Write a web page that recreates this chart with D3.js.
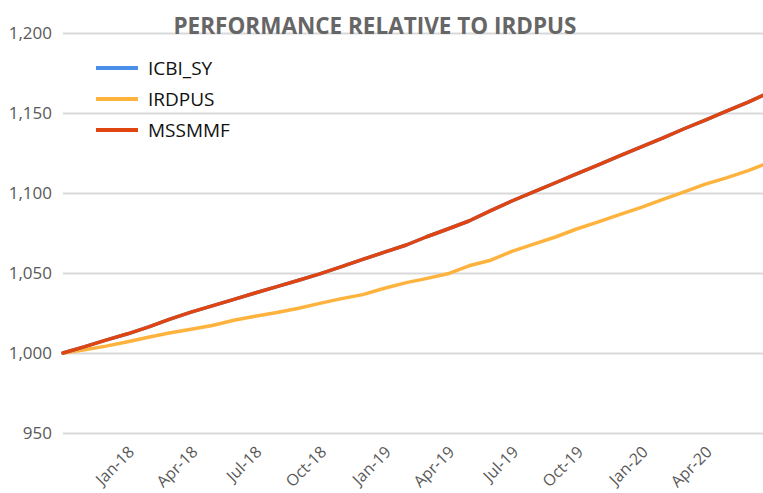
<!DOCTYPE html>
<html>
<head>
<meta charset="utf-8">
<script src="https://cdn.jsdelivr.net/npm/d3@7"></script>
<style>
  body { margin: 0; background: #fff; }
  svg { display: block; font-family: "Open Sans", "Noto Sans", sans-serif; }
</style>
</head>
<body>
<div id="chart"></div>
<script>
// --------------- Data ---------------
const dates = [
  "2017-10-01", "2017-11-01", "2017-12-01", "2018-01-01", "2018-02-01", "2018-03-01",
  "2018-04-01", "2018-05-01", "2018-06-01", "2018-07-01", "2018-08-01", "2018-09-01",
  "2018-10-01", "2018-11-01", "2018-12-01", "2019-01-01", "2019-02-01", "2019-03-01",
  "2019-04-01", "2019-05-01", "2019-06-01", "2019-07-01", "2019-08-01", "2019-09-01",
  "2019-10-01", "2019-11-01", "2019-12-01", "2020-01-01", "2020-02-01", "2020-03-01",
  "2020-04-01", "2020-05-01", "2020-06-01", "2020-06-22"
];
const mssmmf = [
  1000, 1004, 1008, 1012, 1016.5, 1021, 1025.5, 1029.5, 1033.5, 1037.5, 1041.5, 1045.5,
  1049.5, 1054, 1058.5, 1063, 1067.5, 1072.5, 1077.5, 1082.5, 1089, 1095, 1100.7, 1106.4,
  1112, 1117.6, 1123.2, 1128.8, 1134.4, 1140, 1145.6, 1151.2, 1156.8, 1161
];
// ICBI_SY sits exactly under MSSMMF in the picture
const icbiSy = mssmmf.slice();
const irdpus = [
  1000, 1002, 1004.3, 1007, 1010, 1012.5, 1014.8, 1017.2, 1020.5, 1023, 1025.3, 1028,
  1031, 1034, 1036.5, 1040.5, 1044, 1046.5, 1049.5, 1054.5, 1058, 1063.5, 1068, 1072.5,
  1077.5, 1082, 1086.5, 1091, 1096, 1100.5, 1105.5, 1109.5, 1114, 1117.5
];
const seriesNames = ["ICBI_SY", "IRDPUS", "MSSMMF"];
const seriesColors = ["#4a8fe8", "#ffb33f", "#e0440f"];
const yTicks = [950, 1000, 1050, 1100, 1150, 1200];
const xTicks = [
  "2018-01-01", "2018-04-01", "2018-07-01", "2018-10-01", "2019-01-01", "2019-04-01",
  "2019-07-01", "2019-10-01", "2020-01-01", "2020-04-01"
];
const title = "PERFORMANCE RELATIVE TO IRDPUS";

// --------------- Constants ---------------
const WIDTH = 763;
const HEIGHT = 493;
const MARGINS = { top: 33, right: 0, bottom: 60, left: 63 };

const parse = d3.timeParse("%Y-%m-%d");

const svg = d3
  .select("#chart")
  .append("svg")
  .attr("width", WIDTH)
  .attr("height", HEIGHT);

const x = d3
  .scaleTime()
  .domain(d3.extent(dates, parse))
  .range([MARGINS.left, WIDTH - MARGINS.right]);

const y = d3
  .scaleLinear()
  .domain([950, 1200])
  .range([HEIGHT - MARGINS.bottom, MARGINS.top]);

// --------------- Grid + y axis ---------------
const yAxis = svg
  .append("g")
  .attr("transform", `translate(${MARGINS.left},0)`)
  .call(
    d3.axisLeft(y)
      .tickValues(yTicks)
      .tickFormat(d3.format(","))
      .tickSize(-(WIDTH - MARGINS.left - MARGINS.right))
      .tickPadding(11)
  )
  .attr("font-family", null)
  .attr("font-size", null);
yAxis.select(".domain").remove();
yAxis.selectAll(".tick line").attr("stroke", "#d9d9d9").attr("stroke-width", 2);
yAxis
  .selectAll(".tick text")
  .attr("fill", "#595959")
  .style("font-size", "17px");

// --------------- x axis ---------------
const xAxis = svg
  .append("g")
  .attr("transform", `translate(0,${HEIGHT - MARGINS.bottom})`)
  .call(
    d3.axisBottom(x)
      .tickValues(xTicks.map(parse))
      .tickFormat(d3.timeFormat("%b-%y"))
      .tickSize(0)
  )
  .attr("font-family", null)
  .attr("font-size", null);
xAxis.select(".domain").remove();
xAxis
  .selectAll(".tick text")
  .attr("fill", "#595959")
  .style("font-size", "16px")
  .attr("text-anchor", "end")
  .attr("dy", "0.35em")
  .attr("transform", "translate(1,14) rotate(-45)");

// --------------- Title ---------------
svg
  .append("text")
  .attr("x", 375)
  .attr("y", 34)
  .attr("text-anchor", "middle")
  .attr("fill", "#666")
  .style("font-size", "22.5px")
  .style("font-weight", "bold")
  .text(title);

// --------------- Lines ---------------
const allSeries = [icbiSy, irdpus, mssmmf];
const line = d3
  .line()
  .x((d, i) => x(parse(dates[i])))
  .y((d) => y(d));

// draw order: IRDPUS, ICBI_SY, then MSSMMF on top
[1, 0, 2].forEach((k) => {
  svg
    .append("path")
    .datum(allSeries[k])
    .attr("fill", "none")
    .attr("stroke", seriesColors[k])
    .attr("stroke-width", 3.5)
    .attr("stroke-linejoin", "round")
    .attr("stroke-linecap", "round")
    .attr("d", line);
});

// --------------- Legend ---------------
const legend = svg
  .append("g")
  .selectAll("g")
  .data(seriesNames)
  .join("g")
  .attr("transform", (d, i) => `translate(96,${68 + i * 31})`);

legend
  .append("line")
  .attr("x1", 0)
  .attr("x2", 42)
  .attr("stroke", (d, i) => seriesColors[i])
  .attr("stroke-width", 4);

legend
  .append("text")
  .attr("x", 52)
  .attr("dy", "0.35em")
  .attr("fill", "#111")
  .style("font-size", "19px")
  .text((d) => d);
</script>
</body>
</html>
